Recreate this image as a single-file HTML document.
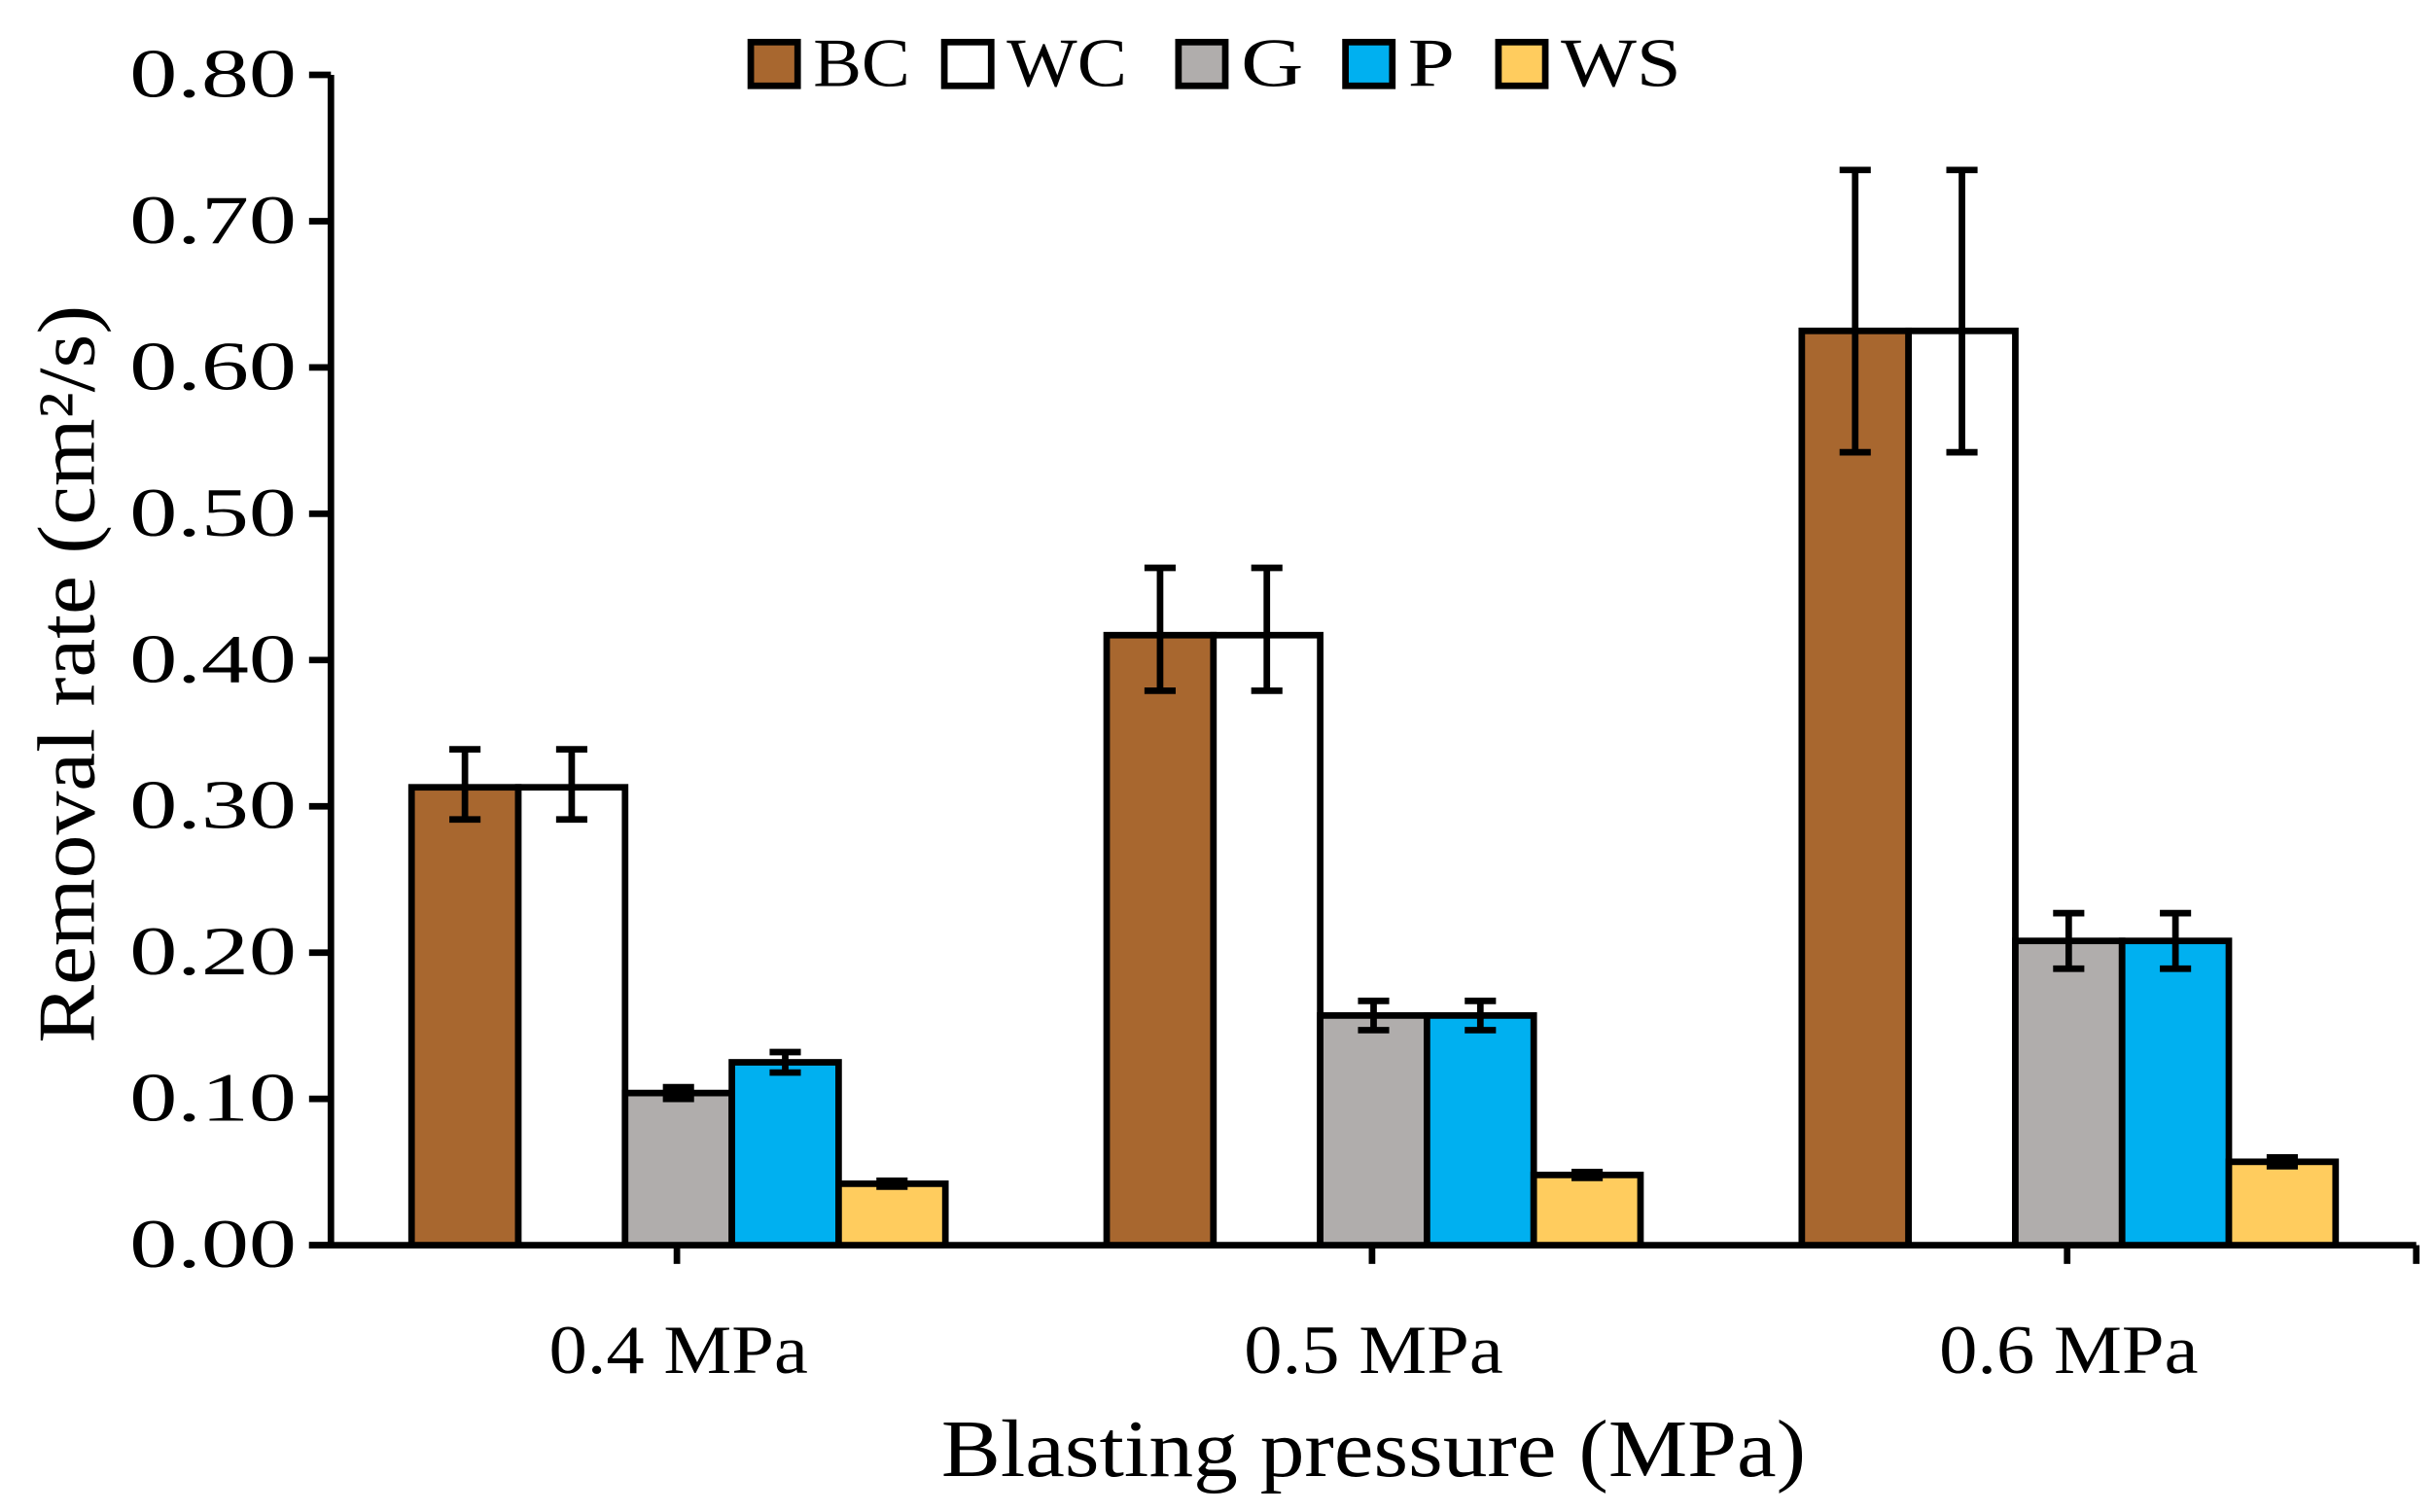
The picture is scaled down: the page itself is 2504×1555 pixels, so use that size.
<!DOCTYPE html>
<html><head><meta charset="utf-8"><style>
html,body{margin:0;padding:0;background:#fff;}
svg{display:block;font-family:"Liberation Serif",serif;}
</style></head><body>
<svg id="chart" width="2504" height="1555" viewBox="0 0 1560 969" preserveAspectRatio="none" xmlns="http://www.w3.org/2000/svg">
<g id="axes"></g>
<g id="bars"></g>
<g id="legend"></g>
<text transform="translate(60,432) rotate(-90)" text-anchor="middle" font-size="52" textLength="473" lengthAdjust="spacingAndGlyphs">Removal rate (cm²/s)</text>
<text x="880" y="946" text-anchor="middle" font-size="52" textLength="554" lengthAdjust="spacingAndGlyphs">Blasting pressure (MPa)</text>
</svg>
<script>
const categories = ["0.4 MPa","0.5 MPa","0.6 MPa"];
const seriesNames = ["BC","WC","G","P","WS"];
const seriesColors = ["#a8672f","#ffffff","#b0adac","#00b0f0","#ffcc5e"];
const valuesBC = [0.313,0.417,0.625];
const valuesWC = [0.313,0.417,0.625];
const valuesG  = [0.104,0.157,0.208];
const valuesP  = [0.125,0.157,0.208];
const valuesWS = [0.042,0.048,0.057];
const errHiBC = [0.026,0.046,0.110];
const errLoBC = [0.022,0.038,0.083];
const errHiWC = [0.026,0.046,0.110];
const errLoWC = [0.022,0.038,0.083];
const errG  = [0.004,0.010,0.019];
const errP  = [0.007,0.010,0.019];
const errWS = [0.002,0.002,0.003];
const yTicks = [0,0.1,0.2,0.3,0.4,0.5,0.6,0.7,0.8];
const yTickLabels = ["0.00","0.10","0.20","0.30","0.40","0.50","0.60","0.70","0.80"];

const NS="http://www.w3.org/2000/svg";
const X0=212,X1=1548,Y0=798,Y1=48,YMAX=0.8;
const y=v=>Y0-(v/YMAX)*(Y0-Y1);
const catW=(X1-X0)/categories.length;
const cx=i=>X0+catW*(i+0.5);
const barW=68.4;
const SW=4.2;
function mk(tag,attrs,parent){const e=document.createElementNS(NS,tag);for(const k in attrs)e.setAttribute(k,attrs[k]);parent.appendChild(e);return e;}
const axes=document.getElementById('axes'),bars=document.getElementById('bars'),legend=document.getElementById('legend');

const allVals=[valuesBC,valuesWC,valuesG,valuesP,valuesWS];
const hi=[errHiBC,errHiWC,errG,errP,errWS];
const lo=[errLoBC,errLoWC,errG,errP,errWS];
categories.forEach((c,i)=>{
  const start=cx(i)-barW*2.5;
  allVals.forEach((vals,s)=>{
    const bx=start+s*barW;
    const r=mk('rect',{x:bx,y:y(vals[i]),width:barW,height:Y0-y(vals[i]),fill:seriesColors[s],stroke:'#000','stroke-width':SW},bars);
    
    
  });
});
categories.forEach((c,i)=>{
  const start=cx(i)-barW*2.5;
  allVals.forEach((vals,s)=>{
    const mx=start+(s+0.5)*barW;
    const g=mk('g',{stroke:'#000','stroke-width':SW},bars);
    
    
    const t=y(vals[i]+hi[s][i]),b=y(vals[i]-lo[s][i]);
    mk('line',{x1:mx,x2:mx,y1:t,y2:b},g);
    mk('line',{x1:mx-10,x2:mx+10,y1:t,y2:t},g);
    mk('line',{x1:mx-10,x2:mx+10,y1:b,y2:b},g);
  });
});
const ya=mk('line',{x1:X0,x2:X0,y1:Y1,y2:Y0,stroke:'#000','stroke-width':SW},axes);


const xa=mk('line',{x1:X0-14,x2:X1,y1:Y0,y2:Y0,stroke:'#000','stroke-width':SW},axes);


yTicks.forEach((v,k)=>{
  mk('line',{x1:X0-14,x2:X0,y1:y(v),y2:y(v),stroke:'#000','stroke-width':SW},axes);
  const t=mk('text',{x:190,y:y(v)+14,'text-anchor':'end','font-size':44,textLength:107,lengthAdjust:'spacingAndGlyphs'},axes);
  t.textContent=yTickLabels[k];
  
  
});
for(let i=0;i<=categories.length;i++){
  const tx=i<categories.length?cx(i)-1:X1;
  mk('line',{x1:tx,x2:tx,y1:Y0,y2:Y0+12,stroke:'#000','stroke-width':SW},axes);
}
categories.forEach((c,i)=>{
  const t=mk('text',{x:cx(i),y:880,'text-anchor':'middle','font-size':44,textLength:166,lengthAdjust:'spacingAndGlyphs'},axes);
  t.textContent=c;
  
  
});
const legX=[481,605,755,862,960];
const legTW=[62,77,40,30,77];
seriesNames.forEach((n,s)=>{
  const g=mk('g',{},legend);
  
  
  mk('rect',{x:legX[s],y:27,width:30,height:28,fill:seriesColors[s],stroke:'#000','stroke-width':SW},g);
  const t=mk('text',{x:legX[s]+40,y:55,'font-size':44,textLength:legTW[s],lengthAdjust:'spacingAndGlyphs'},g);
  t.textContent=n;
});
</script>
</body></html>
